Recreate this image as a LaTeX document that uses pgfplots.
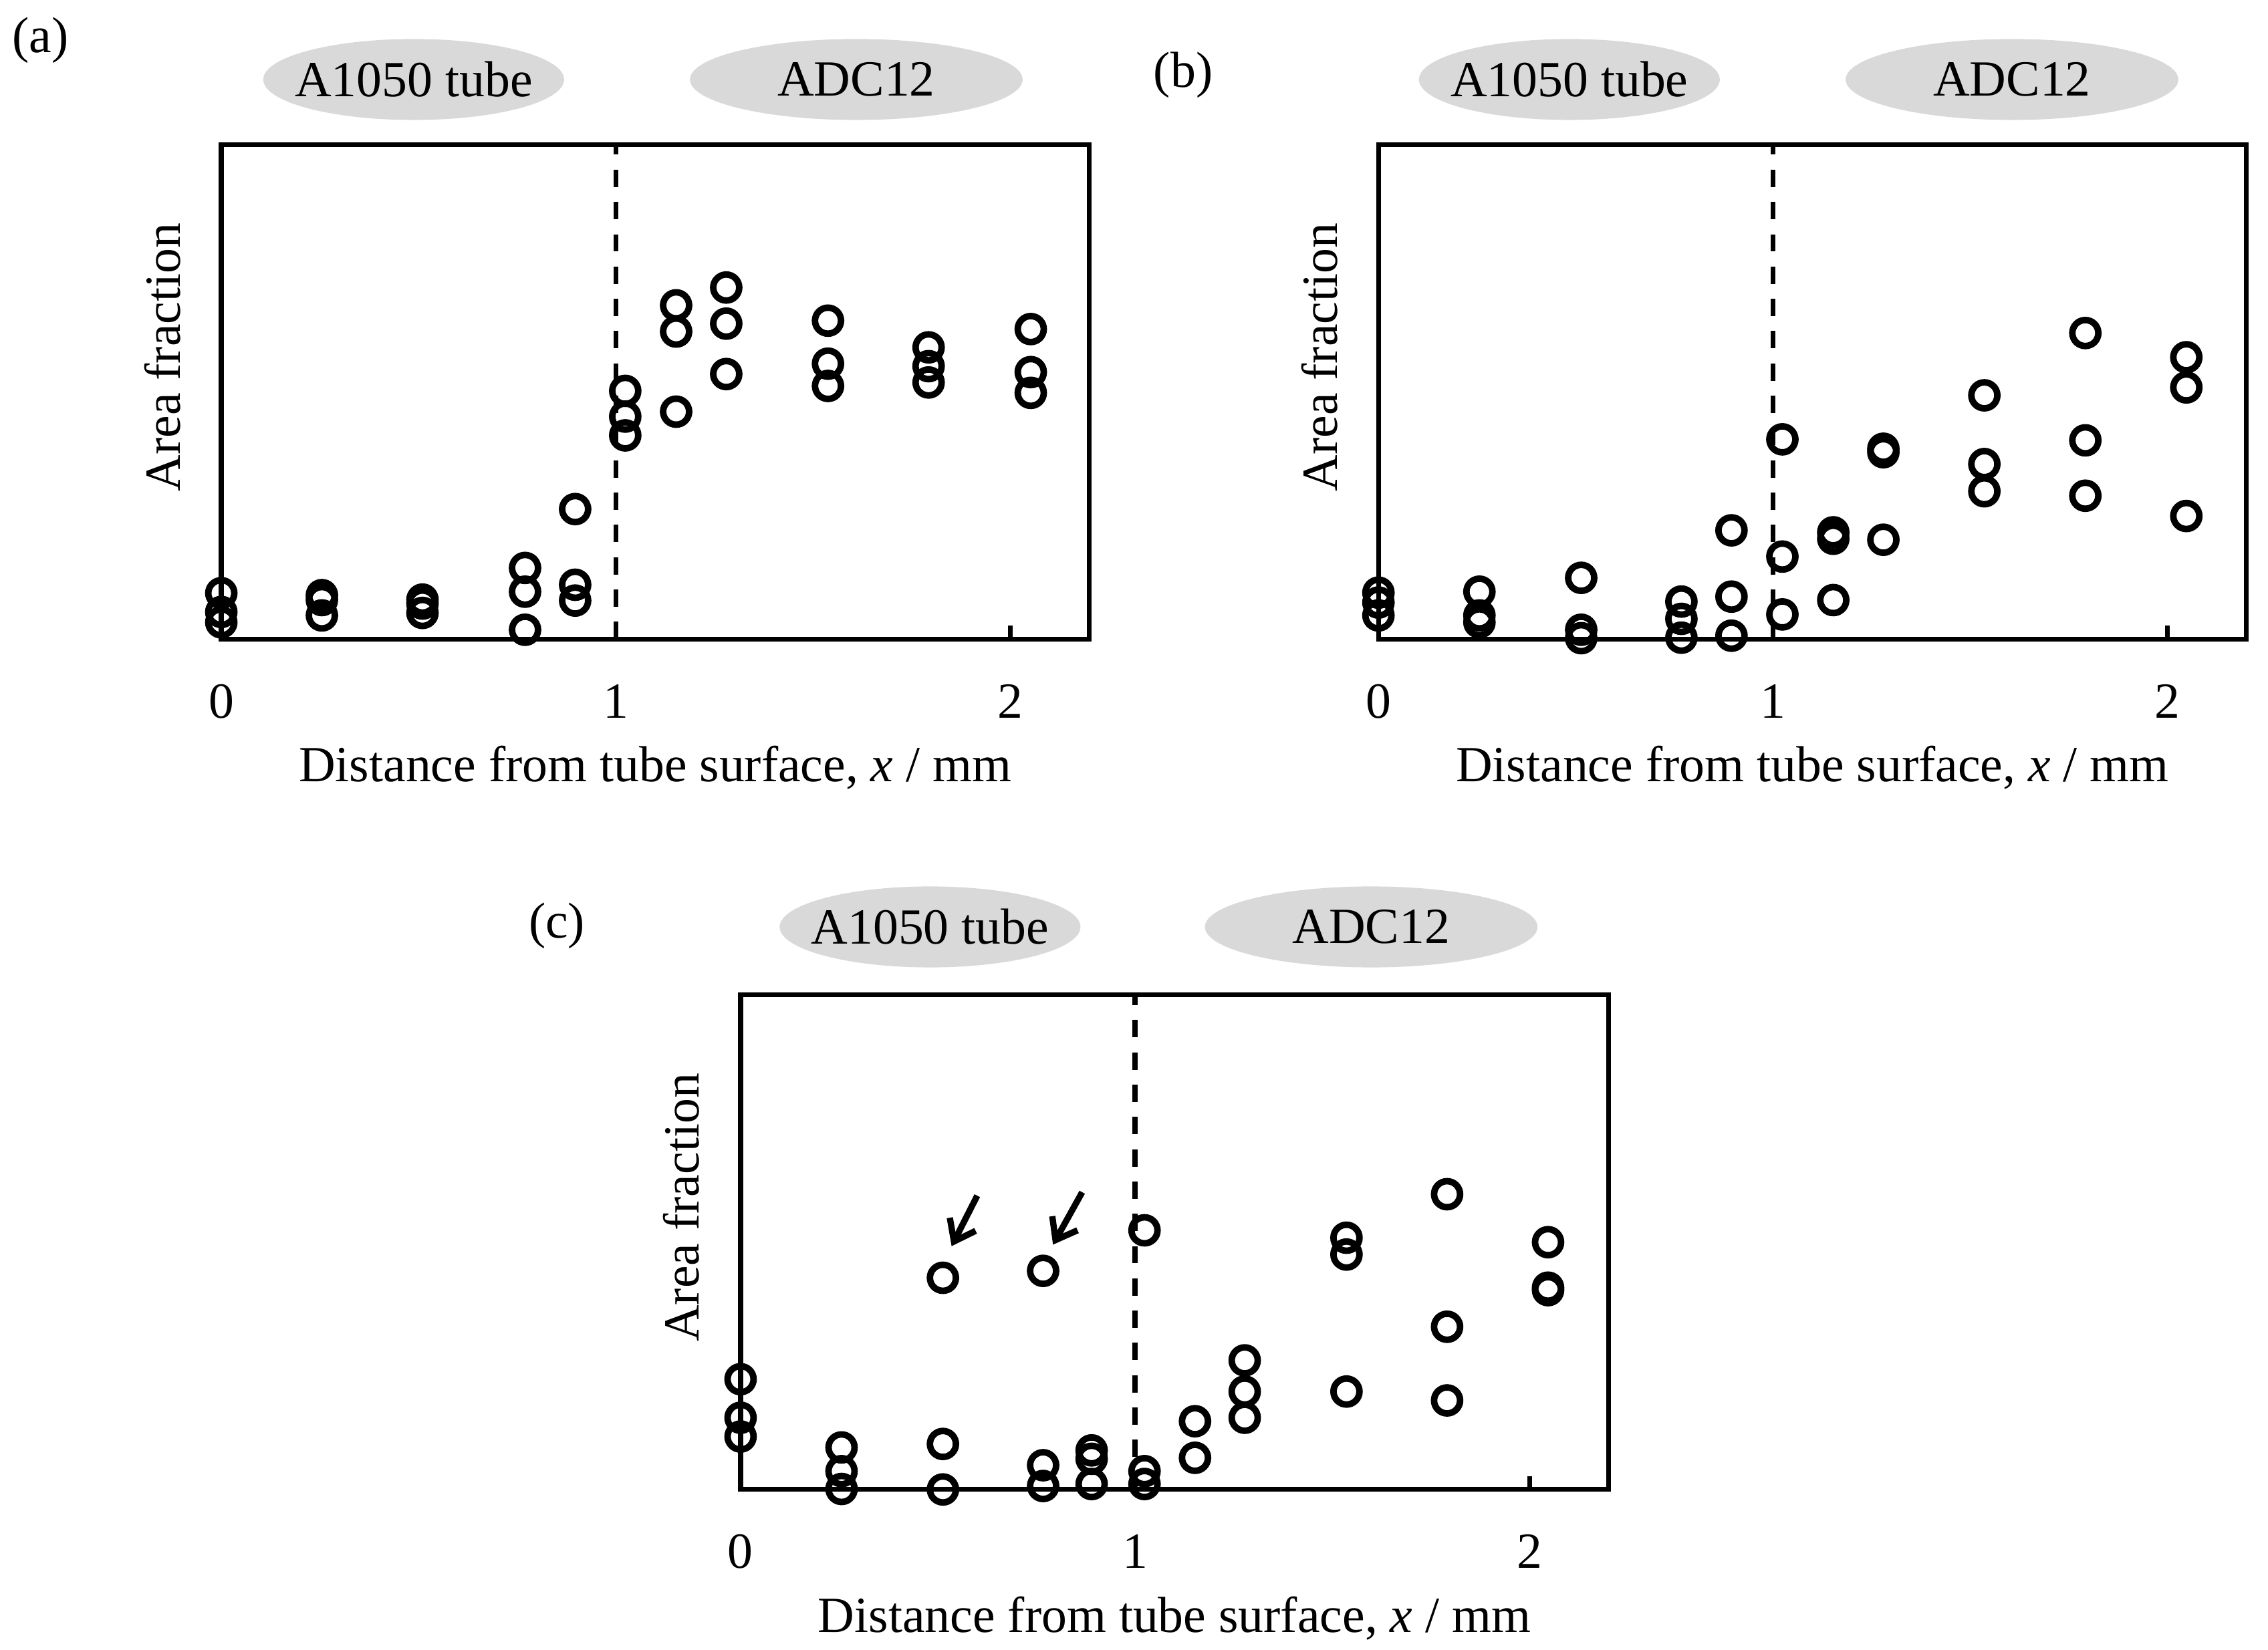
\documentclass[border=0pt]{standalone}
\usepackage{pgfplots}
\pgfplotsset{compat=1.18}
\usepackage{fontspec}
\setmainfont{Liberation Serif}
\usetikzlibrary{arrows.meta}
\definecolor{ellgray}{RGB}{217,217,217}
\tikzset{vdash/.style={line width=1pt, dash pattern=on 3.6pt off 3.1pt}}
\pgfplotsset{
  panel/.style={
    scale only axis, width=180pt, height=102.6pt,
    anchor=south west,
    xmin=0, xmax=2.2, ymin=0, ymax=1,
    axis line style={line width=1pt},
    xtick={0,1,2}, ytick=\empty,
    xtick pos=bottom, tick align=inside,
    major tick length=2.8pt,
    every tick/.style={line width=1pt, black},
    /pgf/number format/assume math mode=true,
    xticklabel style={anchor=center, yshift=-12.9pt},
    xlabel={Distance from tube surface, \textit{x} / mm},
    xlabel style={at={(axis description cs:0.5,0)}, anchor=center, yshift=-26.7pt},
    ylabel={Area fraction},
    ylabel style={at={(axis description cs:-0.068,0.57)}, anchor=center},
    clip=false,
  },
  pts/.style={only marks, mark=o, mark size=2.7pt, mark options={line width=1.35pt, black}},
}
\begin{document}
\fontsize{10.5}{12.6}\selectfont
\begin{tikzpicture}[x=0.3pt,y=0.3pt]
\useasboundingbox (0,0) rectangle (1568,1141);
% ellipses
\fill[ellgray] (286,1086) ellipse [x radius=104, y radius=28];
\fill[ellgray] (592,1086) ellipse [x radius=115, y radius=28];
\fill[ellgray] (1085,1086) ellipse [x radius=104, y radius=28];
\fill[ellgray] (1391,1086) ellipse [x radius=115, y radius=28];
\fill[ellgray] (643,500) ellipse [x radius=104, y radius=28];
\fill[ellgray] (948,500) ellipse [x radius=115, y radius=28];
\node at (286,1086) {A1050 tube};
\node at (592,1086) {ADC12};
\node at (1085,1086) {A1050 tube};
\node at (1391,1086) {ADC12};
\node at (643,500) {A1050 tube};
\node at (948,500) {ADC12};
\node at (28,1113) {(a)};
\node at (818,1089) {(b)};
\node at (385,501) {(c)};

% (a)
\begin{axis}[panel, at={(45.9pt,209.7pt)}]
\draw[vdash] (axis cs:1,0) -- (axis cs:1,1);
\addplot[pts] coordinates {
(0,0.093) (0,0.055) (0,0.034)
(0.255,0.089) (0.255,0.079) (0.255,0.048)
(0.51,0.080) (0.51,0.072) (0.51,0.053)
(0.77,0.144) (0.77,0.096) (0.77,0.019)
(0.897,0.263) (0.897,0.110) (0.897,0.078)
(1.024,0.502) (1.024,0.450) (1.024,0.412)
(1.153,0.675) (1.153,0.622) (1.153,0.460)
(1.28,0.711) (1.28,0.638) (1.28,0.536)
(1.538,0.644) (1.538,0.557) (1.538,0.512)
(1.793,0.590) (1.793,0.552) (1.793,0.519)
(2.052,0.627) (2.052,0.540) (2.052,0.498)
};
\end{axis}

% (b)
\begin{axis}[panel, at={(285.9pt,209.7pt)}]
\draw[vdash] (axis cs:1,0) -- (axis cs:1,1);
\addplot[pts] coordinates {
(0,0.094) (0,0.074) (0,0.048)
(0.256,0.096) (0.256,0.048) (0.256,0.034)
(0.514,0.124) (0.514,0.019) (0.514,0.002)
(0.768,0.076) (0.768,0.041) (0.768,0.003)
(0.895,0.220) (0.895,0.086) (0.895,0.007)
(1.024,0.404) (1.024,0.167) (1.024,0.050)
(1.153,0.216) (1.153,0.203) (1.153,0.079)
(1.28,0.385) (1.28,0.378) (1.28,0.201)
(1.536,0.493) (1.536,0.354) (1.536,0.299)
(1.792,0.619) (1.792,0.402) (1.792,0.290)
(2.048,0.570) (2.048,0.509) (2.048,0.249)
};
\end{axis}

% (c)
\begin{axis}[panel, at={(153.6pt,33.3pt)}]
\draw[vdash] (axis cs:1,0) -- (axis cs:1,1);
\addplot[pts] coordinates {
(0,0.223) (0,0.145) (0,0.107)
(0.256,0.085) (0.256,0.037) (0.256,0.001)
(0.513,0.428) (0.513,0.092) (0.513,0.0)
(0.767,0.442) (0.767,0.049) (0.767,0.007)
(0.89,0.079) (0.89,0.062) (0.89,0.011)
(1.024,0.524) (1.024,0.037) (1.024,0.011)
(1.152,0.138) (1.152,0.064)
(1.278,0.261) (1.278,0.198) (1.278,0.145)
(1.536,0.509) (1.536,0.475) (1.536,0.198)
(1.791,0.597) (1.791,0.329) (1.791,0.180)
(2.047,0.500) (2.047,0.408) (2.047,0.403)
};
\draw[line width=1.3pt, -{Straight Barb[length=4pt,width=6pt]}] (axis cs:0.600,0.594) -- (axis cs:0.535,0.492);
\draw[line width=1.3pt, -{Straight Barb[length=4pt,width=6pt]}] (axis cs:0.866,0.601) -- (axis cs:0.792,0.495);
\end{axis}
\end{tikzpicture}
\end{document}
